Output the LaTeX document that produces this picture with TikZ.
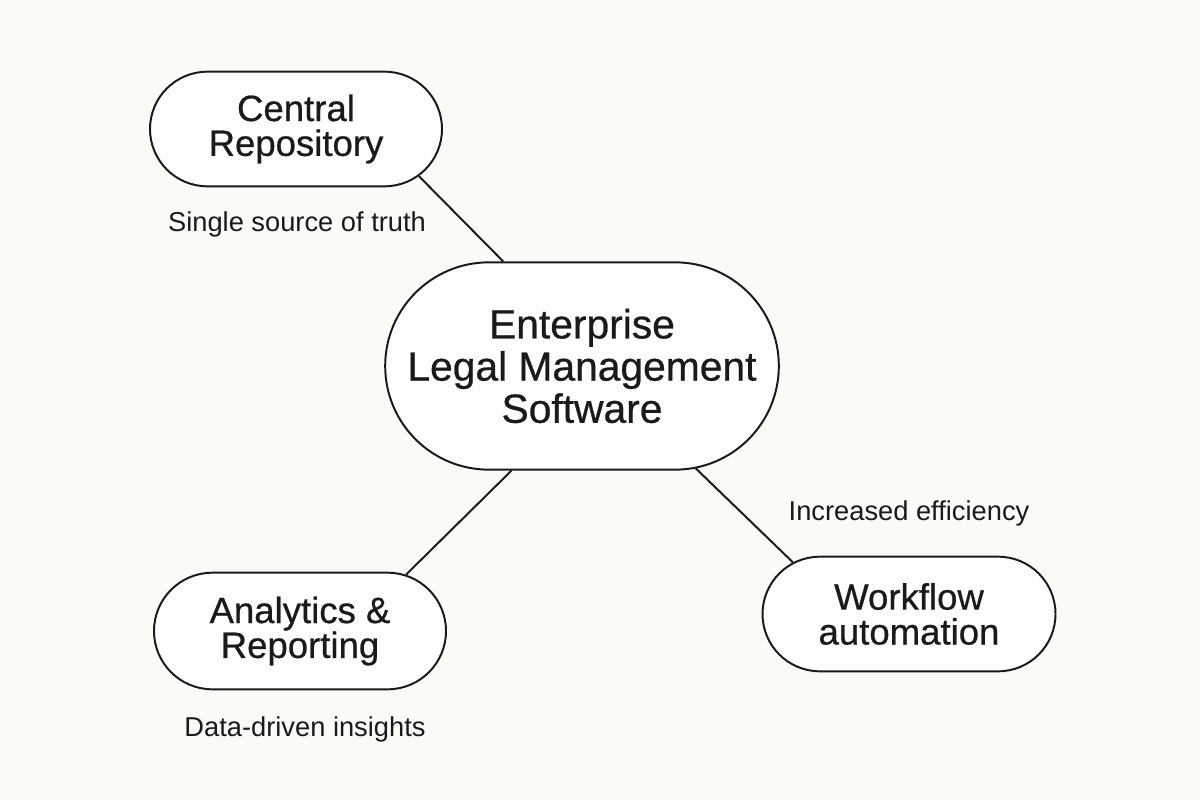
\documentclass[tikz,border=0pt]{standalone}
\usepackage{fontspec}
\setmainfont{Liberation Sans}[BoldFont={Liberation Sans}, BoldFeatures={FakeBold=0.6}]
\usetikzlibrary{shapes.misc}
\definecolor{bg}{HTML}{FAFAF7}
\definecolor{ink}{HTML}{1A1A1A}
\begin{document}
\begin{tikzpicture}[x=0.025cm,y=-0.025cm,
  pill/.style={draw=ink, line width=1.4pt, rounded rectangle, align=center,
    text=ink, inner sep=0pt, fill=white!60!bg},
  smallpill/.style={pill, minimum width=293*0.7087pt, minimum height=115*0.7087pt,
    font=\bfseries\fontsize{26}{24.8}\selectfont},
  lbl/.style={text=ink, anchor=base, inner sep=0pt, font=\fontsize{19.4}{22}\selectfont},
  link/.style={draw=ink, line width=1.4pt}]
\fill[bg] (0,0) rectangle (1200,800);
\useasboundingbox (0,0) rectangle (1200,800);

\node[smallpill] (cr) at (296,129) {Central\\Repository};
\node[pill, minimum width=395*0.7087pt, minimum height=208*0.7087pt,
  font=\bfseries\fontsize{29}{30}\selectfont] (ctr) at (582,366)
  {Enterprise\\Legal Management\\Software};
\node[smallpill, minimum height=117*0.7087pt] (an) at (300,631) {Analytics \&\\Reporting};
\node[smallpill, minimum width=294*0.7087pt] (wf) at (909,614) {Workflow\\automation};

\draw[link] (cr.-21) -- (ctr.127);
\draw[link] (ctr.-124) -- (an.28);
\draw[link] (ctr.-42) -- (wf.156);

\node[lbl] (l1) at (297,232) {Single source of truth};
\node[lbl] (l2) at (909,520) {Increased efficiency};
\node[lbl] (l3) at (305,736) {Data-driven insights};
\end{tikzpicture}
\end{document}
